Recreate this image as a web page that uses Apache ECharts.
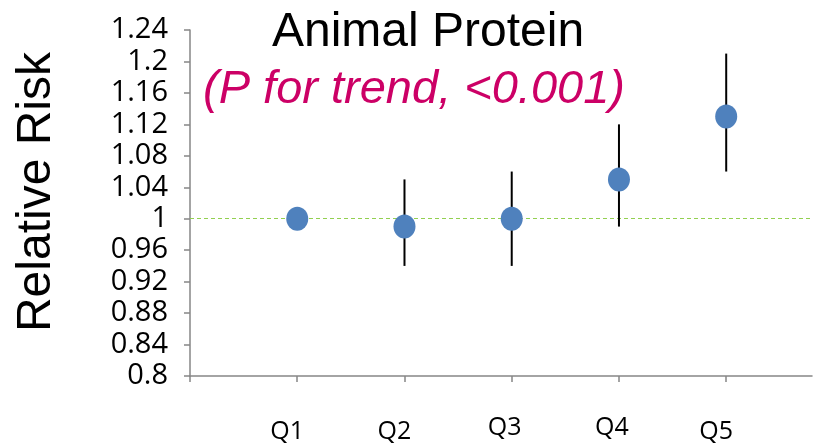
<!DOCTYPE html>
<html>
<head>
<meta charset="utf-8">
<script src="https://cdn.jsdelivr.net/npm/echarts@6/dist/echarts.min.js"></script>
<style>
html,body{margin:0;padding:0;background:#fff;}
#chart{width:815px;height:444px;}
</style>
</head>
<body>
<div id="chart"></div>
<script>
// ---- data ----
var categories = ['Q1', 'Q2', 'Q3', 'Q4', 'Q5'];
var relativeRisk = [1.00, 0.99, 1.00, 1.05, 1.13];
var ciLow  = [null, 0.94, 0.94, 0.99, 1.06];
var ciHigh = [null, 1.05, 1.06, 1.12, 1.21];
var referenceValue = 1.004;
var yMin = 0.8, yMax = 1.24, yStep = 0.04;
var titleText = 'Animal Protein';
var subtitleText = '(P for trend, <0.001)';
var yAxisTitle = 'Relative Risk';
// ----------------

var pointData = categories.map(function (c, i) { return [i + 1, relativeRisk[i]]; });
var barData = [];
categories.forEach(function (c, i) {
  if (ciLow[i] != null && ciHigh[i] != null) barData.push([i + 1, ciLow[i], ciHigh[i]]);
});
var tickVals = [0].concat(categories.map(function (c, i) { return i + 1; }));
var labelVals = categories.map(function (c, i) { return i + 1; });
var raised = { 'Q3': true, 'Q4': true };

var chart = echarts.init(document.getElementById('chart'));
chart.setOption({
  animation: false,
  backgroundColor: '#ffffff',
  title: [{
    text: titleText,
    left: 423, top: 4, textAlign: 'center',
    textStyle: { fontFamily: 'Liberation Sans', fontSize: 48, fontWeight: 'normal', color: '#000000' }
  }, {
    text: subtitleText,
    left: 409, top: 61, textAlign: 'center',
    textStyle: { fontFamily: 'Liberation Sans', fontSize: 47, fontWeight: 'normal', fontStyle: 'italic', color: '#CC0066' }
  }],
  graphic: [{
    type: 'text',
    x: 37, y: 192,
    rotation: Math.PI / 2,
    style: {
      text: yAxisTitle,
      font: '48px "Liberation Sans"',
      fill: '#000000',
      textAlign: 'center',
      textVerticalAlign: 'middle'
    }
  }],
  grid: { left: 190, right: 3, top: 30, bottom: 68 },
  xAxis: {
    type: 'value',
    min: 0, max: 5.8, interval: 1,
    axisLine: { show: true, lineStyle: { color: '#868686', width: 1.5 } },
    axisTick: { show: true, length: 6, customValues: tickVals, lineStyle: { color: '#868686', width: 1.5 } },
    splitLine: { show: false },
    axisLabel: {
      customValues: labelVals,
      margin: 39,
      formatter: function (v) {
        var name = categories[Math.round(v) - 1] || '';
        return raised[name] ? '{hi|' + name + '}' : '{lo|' + name + '}';
      },
      rich: {
        lo: { fontFamily: 'Open Sans', fontSize: 25, color: '#000', padding: [4, 20, 0, 0] },
        hi: { fontFamily: 'Open Sans', fontSize: 25, color: '#000', padding: [0, 14, 0, 0] }
      }
    }
  },
  yAxis: {
    type: 'value',
    min: yMin, max: yMax, interval: yStep,
    axisLine: { show: true, lineStyle: { color: '#868686', width: 1.5 } },
    axisTick: { show: true, length: 6, lineStyle: { color: '#868686', width: 1.5 } },
    splitLine: { show: false },
    axisLabel: {
      margin: 22,
      fontFamily: 'Open Sans', fontSize: 29, color: '#000',
      formatter: function (v) { return String(Math.round(v * 100) / 100); }
    }
  },
  series: [{
    type: 'custom',
    z: 2,
    data: barData,
    renderItem: function (params, api) {
      var top = api.coord([api.value(0), api.value(2)]);
      var bot = api.coord([api.value(0), api.value(1)]);
      return {
        type: 'line',
        shape: { x1: top[0], y1: top[1], x2: bot[0], y2: bot[1] },
        style: { stroke: '#000000', lineWidth: 2 }
      };
    }
  }, {
    type: 'scatter',
    z: 3,
    data: pointData,
    symbol: 'circle',
    symbolSize: [22, 24],
    itemStyle: { color: '#4F81BD', opacity: 1 },
    markLine: {
      silent: true,
      symbol: 'none',
      label: { show: false },
      lineStyle: { color: '#92D050', type: [4, 3], width: 1 },
      data: [{ yAxis: referenceValue }],
      z: 1
    }
  }]
});
</script>
</body>
</html>
